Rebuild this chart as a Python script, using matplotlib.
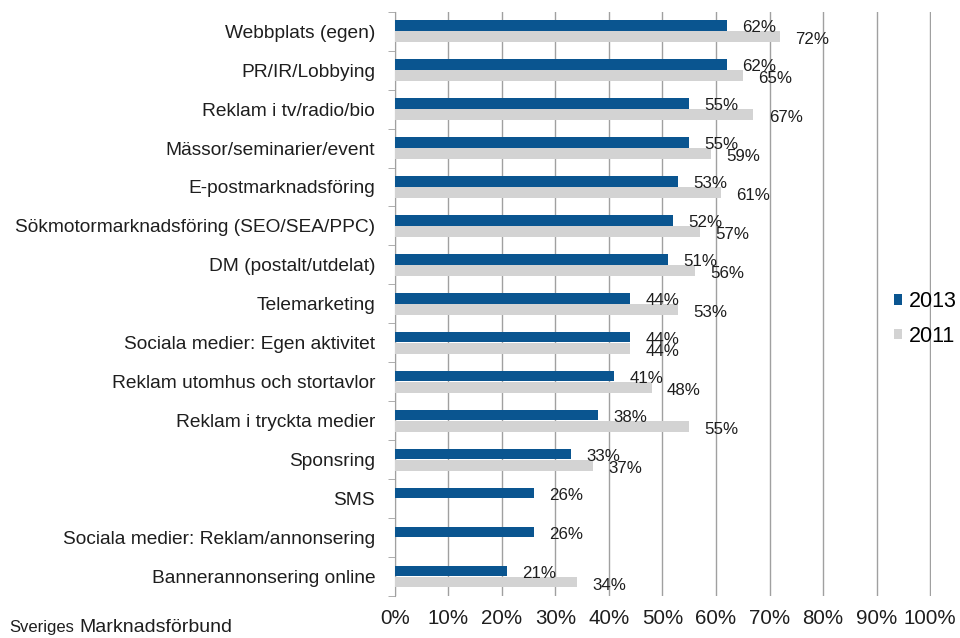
import numpy as np
import matplotlib
from matplotlib import pyplot as plt
from matplotlib.patches import Patch

matplotlib.use("Agg")
plt.rcParams['font.family'] = ['Liberation Sans', 'DejaVu Sans']

categories = [
    "Webbplats (egen)",
    "PR/IR/Lobbying",
    "Reklam i tv/radio/bio",
    "Mässor/seminarier/event",
    "E-postmarknadsföring",
    "Sökmotormarknadsföring (SEO/SEA/PPC)",
    "DM (postalt/utdelat)",
    "Telemarketing",
    "Sociala medier: Egen aktivitet",
    "Reklam utomhus och stortavlor",
    "Reklam i tryckta medier",
    "Sponsring",
    "SMS",
    "Sociala medier: Reklam/annonsering",
    "Bannerannonsering online",
]
values_2013 = [62, 62, 55, 55, 53, 52, 51, 44, 44, 41, 38, 33, 26, 26, 21]
values_2011 = [72, 65, 67, 59, 61, 57, 56, 53, 44, 48, 55, 37, np.nan, np.nan, 34]
x_ticks = [0, 10, 20, 30, 40, 50, 60, 70, 80, 90, 100]

blue = "#0a5590"
grey = "#d3d3d3"
grid_col = "#a0a0a0"
txt = "#1e1e1e"

fig = plt.figure(figsize=(9.6, 6.38), dpi=100)
ax = fig.add_axes([0.4111, 0.0658, 0.5587, 0.9159])

y = np.arange(len(categories))
h = 0.27
ax.barh(y - 0.143, values_2013, height=h, color=blue, label="2013", zorder=3)
ax.barh(y + 0.143, values_2011, height=h, color=grey, label="2011", zorder=3)

for yi, v in zip(y, values_2013):
    ax.annotate(f"{v:.0f}%", (v, yi - 0.143), xytext=(11, -1.5), textcoords="offset points",
                va="center", ha="left", fontsize=12.2, color=txt, zorder=4)
for yi, v in zip(y, values_2011):
    if np.isnan(v):
        continue
    ax.annotate(f"{v:.0f}%", (v, yi + 0.143), xytext=(11, -2.2), textcoords="offset points",
                va="center", ha="left", fontsize=12.2, color=txt, zorder=4)

ax.set_xlim(0, 100.15)
ax.set_ylim(len(categories) - 0.5, -0.5)
ax.set_xticks(x_ticks)
ax.set_xticklabels([f"{t}%" for t in x_ticks], fontsize=14.8, color=txt)
ax.set_yticks(y)
ax.set_yticklabels(categories, fontsize=13.8, color=txt)
ax.set_yticks(np.arange(len(categories) + 1) - 0.5, minor=True)
ax.tick_params(axis="y", which="major", length=0, pad=14)
ax.tick_params(axis="y", which="minor", length=5, color=grid_col, direction="out")
ax.tick_params(axis="x", length=0, pad=9)

ax.grid(axis="x", color=grid_col, linewidth=1, zorder=0)
for s in ["top", "right", "bottom"]:
    ax.spines[s].set_visible(False)
ax.spines["left"].set_color(grid_col)

handles = [Patch(facecolor=blue, label="2013"), Patch(facecolor=grey, label="2011")]
fig.legend(handles=handles, loc="center left", bbox_to_anchor=(0.931, 0.50), frameon=False,
           fontsize=15.5, handlelength=0.38, handleheight=0.38, handletextpad=0.3,
           labelspacing=0.62, borderpad=0, borderaxespad=0)

fig.text(0.0095, 0.01, "Sveriges", fontsize=12, color=txt, va="baseline")
fig.text(0.083, 0.01, "Marknadsförbund", fontsize=14, color=txt, va="baseline")

fig.savefig("out.png", dpi=100)
